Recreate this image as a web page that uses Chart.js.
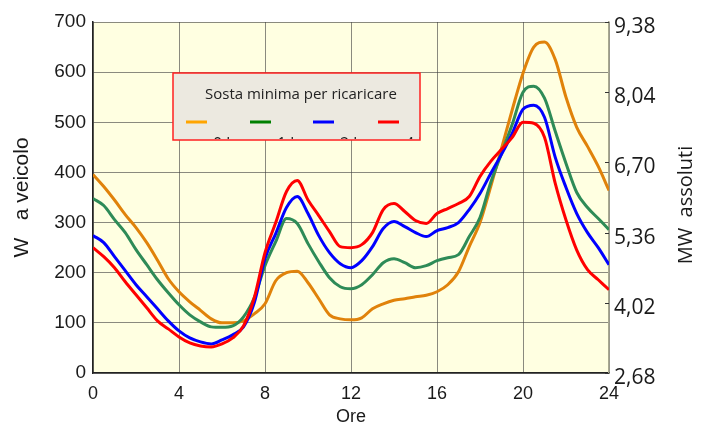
<!DOCTYPE html>
<html lang="it">
<head>
<meta charset="UTF-8">
<title>Sosta minima per ricaricare</title>
<style>
  body { margin: 0; background: #ffffff; }
  .wrap { width: 702px; height: 425px; position: relative; }
</style>
<script src="https://cdn.jsdelivr.net/npm/chart.js"></script>
</head>
<body>
<div class="wrap"><canvas id="chart"></canvas></div>
<script>
// ore del giorno (asse x)
const hours = [0, 0.5, 1, 1.5, 2, 2.5, 3, 3.5, 4, 4.5, 5, 5.5, 6, 6.5, 7, 7.5, 8, 8.5, 9, 9.5,
  10, 10.5, 11, 11.5, 12, 12.5, 13, 13.5, 14, 14.5, 15, 15.5, 16, 16.5, 17, 17.5, 18, 18.5,
  19, 19.5, 20, 20.5, 21, 21.5, 22, 22.5, 23, 23.5, 24];

// W a veicolo, una serie per ogni sosta minima
const sosta0 = [396, 372, 345, 316, 290, 260, 225, 188, 162, 142, 125, 108, 100, 100, 104, 118,
  138, 184, 200, 203, 180, 148, 116, 108, 106, 110, 128, 138, 145, 148, 152, 155, 162, 176,
  202, 252, 300, 372, 448, 525, 598, 650, 660, 625, 550, 490, 452, 412, 364];
const sosta1 = [348, 334, 306, 280, 246, 216, 186, 160, 136, 116, 102, 92, 91, 94, 112, 150,
  214, 262, 308, 298, 258, 222, 190, 172, 168, 176, 196, 220, 228, 220, 210, 214, 224, 230,
  236, 272, 310, 380, 438, 496, 560, 572, 548, 482, 418, 360, 330, 308, 286];
const sosta2 = [274, 260, 232, 204, 176, 152, 128, 104, 84, 70, 62, 58, 66, 76, 92, 140,
  228, 278, 330, 352, 318, 274, 240, 218, 210, 224, 252, 288, 302, 292, 280, 272, 284, 290,
  300, 326, 358, 398, 436, 478, 526, 534, 510, 430, 370, 318, 280, 250, 216];
const sosta4 = [250, 232, 210, 182, 156, 130, 104, 88, 72, 60, 54, 52, 58, 70, 94, 150,
  240, 300, 362, 384, 345, 314, 282, 252, 250, 256, 280, 326, 338, 322, 304, 298, 318, 328,
  338, 352, 392, 422, 446, 470, 500, 498, 470, 378, 305, 245, 206, 186, 166];

const seriesLabels = ['0 h', '1 h', '2 h', '4 h'];
const lineColors = ['#E0820A', '#2E8B57', '#0000FF', '#FF0000'];
const legendColors = ['#FFA500', '#008000', '#0000FF', '#FF0000'];

const hourTicks = [0, 4, 8, 12, 16, 20, 24];
const leftTicks = [0, 100, 200, 300, 400, 500, 600, 700];
const rightTicks = [2.68, 4.02, 5.36, 6.70, 8.04, 9.38];

const allSeries = [sosta0, sosta1, sosta2, sosta4];

const datasets = allSeries.map((vals, i) => ({
  label: seriesLabels[i],
  data: vals.map((v, k) => ({ x: hours[k], y: v })),
  borderColor: lineColors[i],
  borderWidth: 3,
  pointRadius: 0,
  cubicInterpolationMode: 'monotone',
  fill: false,
  order: 3 - i,
  yAxisID: 'y'
}));

const plotBackground = {
  id: 'plotBackground',
  beforeDraw(chart) {
    const { ctx, chartArea: a } = chart;
    ctx.save();
    ctx.fillStyle = '#FFFFE1';
    ctx.fillRect(a.left, a.top, a.right - a.left, a.bottom - a.top);
    ctx.restore();
  }
};

const extras = {
  id: 'extras',
  afterDraw(chart) {
    const { ctx, chartArea: a } = chart;
    ctx.save();

    // small inward ticks on the right axis
    const y1 = chart.scales.y1;
    ctx.strokeStyle = '#333';
    ctx.lineWidth = 1;
    rightTicks.forEach(t => {
      const py = Math.round(y1.getPixelForValue(t)) + 0.5;
      ctx.beginPath();
      ctx.moveTo(a.right - 4, py);
      ctx.lineTo(a.right, py);
      ctx.stroke();
    });

    // right axis title, reading bottom to top
    ctx.translate(686, 205);
    ctx.rotate(-Math.PI / 2);
    ctx.fillStyle = '#1a1a1a';
    ctx.font = '20px "Open Sans"';
    ctx.textAlign = 'center';
    ctx.textBaseline = 'middle';
    ctx.fillText('MW  assoluti', 0, 0);
    ctx.restore();

    // legend box
    const bx = 173, by = 73, bw = 247, bh = 67;
    ctx.save();
    ctx.fillStyle = '#ECE9E0';
    ctx.fillRect(bx, by, bw, bh);
    ctx.fillStyle = '#222';
    ctx.font = '15px "Open Sans"';
    ctx.textAlign = 'left';
    ctx.textBaseline = 'middle';
    ctx.fillText('Sosta minima per ricaricare', 205, 95);

    const sampleX = [186, 250, 313, 378];
    ctx.lineWidth = 3;
    sampleX.forEach((sx, i) => {
      ctx.strokeStyle = legendColors[i];
      ctx.beginPath();
      ctx.moveTo(sx, 122);
      ctx.lineTo(sx + 21, 122);
      ctx.stroke();
    });

    // labels sit low and are mostly hidden by the box edge
    ctx.save();
    ctx.beginPath();
    ctx.rect(bx, by, bw, bh - 1);
    ctx.clip();
    ctx.fillStyle = '#222';
    ctx.font = '16px "Open Sans"';
    ctx.textBaseline = 'alphabetic';
    sampleX.forEach((sx, i) => {
      ctx.fillText(chart.data.datasets[i].label, sx + 27, 149);
    });
    ctx.restore();

    ctx.strokeStyle = '#FF2020';
    ctx.lineWidth = 1.5;
    ctx.strokeRect(bx, by, bw, bh);
    ctx.restore();
  }
};

const gridColor = 'rgba(60, 60, 60, 0.6)';

new Chart(document.getElementById('chart'), {
  type: 'line',
  data: { datasets },
  options: {
    responsive: true,
    maintainAspectRatio: false,
    animation: false,
    layout: { padding: { top: 22, left: 0, right: 0, bottom: 0 } },
    plugins: { legend: { display: false }, tooltip: { enabled: false } },
    scales: {
      x: {
        type: 'linear',
        min: 0,
        max: 24,
        afterBuildTicks: s => { s.ticks = hourTicks.map(v => ({ value: v })); },
        afterFit: s => { s.height = 52; },
        ticks: {
          color: '#1a1a1a',
          font: { family: 'Liberation Sans', size: 18 },
          padding: 10,
          maxRotation: 0,
          callback: v => String(v)
        },
        grid: { color: gridColor, lineWidth: 1, drawTicks: false },
        border: { color: '#222', width: 1.5 },
        title: {
          display: true,
          text: 'Ore',
          color: '#1a1a1a',
          font: { family: 'Liberation Sans', size: 18 },
          padding: { top: 0, bottom: -3 }
        }
      },
      y: {
        position: 'left',
        min: 0,
        max: 700,
        afterBuildTicks: s => { s.ticks = leftTicks.map(v => ({ value: v })); },
        afterFit: s => { s.width = 93; },
        ticks: {
          color: '#1a1a1a',
          font: { family: 'Liberation Sans', size: 19 },
          padding: 7,
          callback: v => String(v)
        },
        grid: { color: gridColor, lineWidth: 1, drawTicks: false },
        border: { color: '#222', width: 1.5 },
        title: {
          display: true,
          text: 'W   a veicolo',
          color: '#1a1a1a',
          font: { family: 'Liberation Sans', size: 21 },
          padding: { top: 10, bottom: 0 }
        }
      },
      y1: {
        position: 'right',
        min: 2.68,
        max: 9.38,
        afterBuildTicks: s => { s.ticks = rightTicks.map(v => ({ value: v })); },
        afterFit: s => { s.width = 93; },
        ticks: {
          color: '#1a1a1a',
          font: { family: 'Open Sans', size: 21 },
          padding: 5,
          labelOffset: 5,
          callback: v => v.toFixed(2).replace('.', ',')
        },
        grid: { display: false, drawTicks: false },
        border: { color: '#A8A890', width: 1.5 }
      }
    }
  },
  plugins: [plotBackground, extras]
});
</script>
</body>
</html>
